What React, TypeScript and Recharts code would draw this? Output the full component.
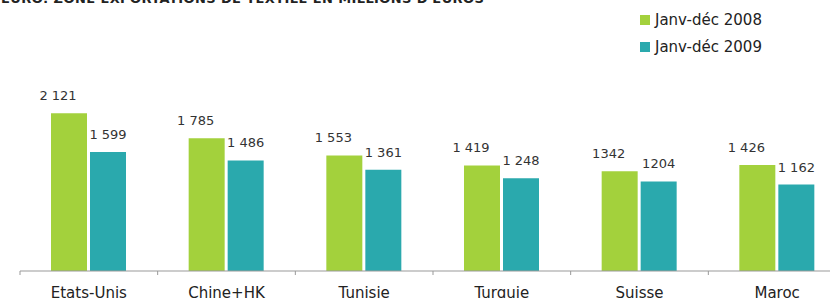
import { BarChart, Bar, XAxis, YAxis, LabelList } from "recharts";

const countries = ["Etats-Unis", "Chine+HK", "Tunisie", "Turquie", "Suisse", "Maroc"];
const exports2008 = [2121, 1785, 1553, 1419, 1342, 1426];
const exports2009 = [1599, 1486, 1361, 1248, 1204, 1162];
const labels2008 = ["2 121", "1 785", "1 553", "1 419", "1342", "1 426"];
const labels2009 = ["1 599", "1 486", "1 361", "1 248", "1204", "1 162"];
const seriesNames = ["Janv-déc 2008", "Janv-déc 2009"];
const title = "EURO: ZONE EXPORTATIONS DE TEXTILE EN MILLIONS D'EUROS";

const GREEN = "#a3d13c";
const TEAL = "#2aa9ad";
const FONT = "'DejaVu Sans', sans-serif";

const data = countries.map((name, i) => ({
  name,
  y2008: exports2008[i],
  y2009: exports2009[i],
  l2008: labels2008[i],
  l2009: labels2009[i],
}));

// value labels sit a bit above the bar, green ones nudged left
function valueLabel(dx: number) {
  return (props: any) => {
    const { x, y, width, value } = props;
    return (
      <text
        x={Number(x) + Number(width) / 2 + dx}
        y={Number(y) - 13}
        textAnchor="middle"
        fontSize={13}
        fontFamily={FONT}
        fill="#333"
      >
        {value}
      </text>
    );
  };
}

// tick mark on the left edge of each band, label centred
function CountryTick(props: any) {
  const { x, y, payload } = props;
  const half = payload?.offset ?? 0;
  return (
    <g>
      <line x1={x - half} x2={x - half} y1={y} y2={y + 4} stroke="#999" />
      <text x={x} y={y + 26.5} textAnchor="middle" fontSize={15} fontFamily={FONT} fill="#222">
        {payload.value}
      </text>
    </g>
  );
}

export default function App() {
  return (
    <div
      style={{
        position: "absolute",
        left: 0,
        top: 0,
        width: 830,
        height: 298,
        overflow: "hidden",
        background: "#fff",
        fontFamily: FONT,
      }}
    >
      <div
        style={{
          position: "absolute",
          left: 1,
          top: -8,
          fontSize: 13,
          lineHeight: "13px",
          letterSpacing: 0.4,
          fontWeight: "bold",
          color: "#222",
          whiteSpace: "nowrap",
        }}
      >
        {title}
      </div>

      <div style={{ position: "absolute", left: 640, top: 6 }}>
        {seriesNames.map((s, i) => (
          <div key={s} style={{ display: "flex", alignItems: "center", height: 27 }}>
            <span
              style={{
                display: "inline-block",
                width: 10,
                height: 10,
                background: i === 0 ? GREEN : TEAL,
                marginRight: 5,
              }}
            />
            <span style={{ fontSize: 15, color: "#222" }}>{s}</span>
          </div>
        ))}
      </div>

      <BarChart
        width={850}
        height={298}
        data={data}
        margin={{ top: 85, right: 4, left: 20, bottom: 0 }}
        barSize={36}
        barGap={3}
      >
        <XAxis
          dataKey="name"
          height={27}
          axisLine={{ stroke: "#999" }}
          tickLine={false}
          tickSize={0}
          tickMargin={0}
          interval={0}
          tick={<CountryTick />}
        />
        <YAxis hide domain={[0, 2500]} />
        <Bar dataKey="y2008" fill={GREEN} isAnimationActive={false}>
          <LabelList dataKey="l2008" content={valueLabel(-11)} />
        </Bar>
        <Bar dataKey="y2009" fill={TEAL} isAnimationActive={false}>
          <LabelList dataKey="l2009" content={valueLabel(0)} />
        </Bar>
      </BarChart>
    </div>
  );
}
